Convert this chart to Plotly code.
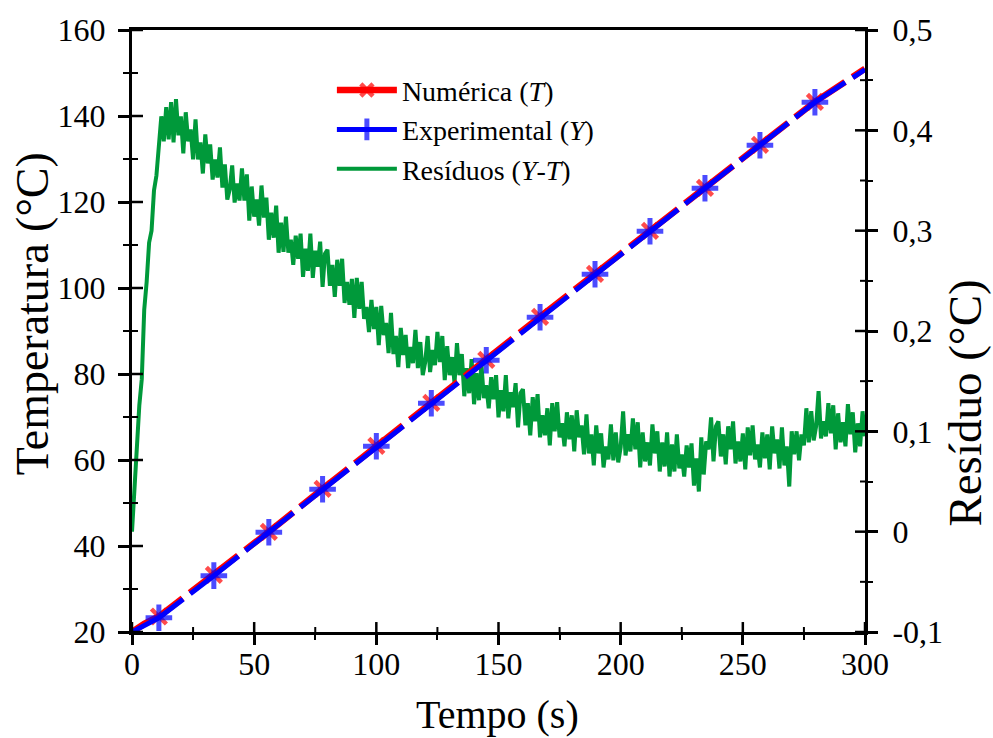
import plotly.graph_objects as go

# ---------------- data ----------------
# temperature curves (s, °C)
t_line = [0, 5, 11, 33.5, 56, 78, 100, 122.5, 145, 167, 189.5, 212, 234.5, 257, 279.5, 300]
T_numerica = [20.0, 21.9, 23.6, 33.3, 43.3, 53.3, 63.3, 73.3, 83.3, 93.3, 103.3, 113.3, 123.3, 133.3, 143.3, 151.0]
Y_experimental = [20.0, 21.5, 23.3, 33.1, 43.2, 53.2, 63.2, 73.2, 83.2, 93.2, 103.2, 113.2, 123.2, 133.2, 143.2, 150.8]
marker_on = [0, 0, 1, 1, 1, 1, 1, 1, 1, 1, 1, 1, 1, 1, 1, 0]

# residuals (°C), one reading per second 0..300
t_res = list(range(0, 301))
residuo = [
    0.000, 0.046, 0.074, 0.126, 0.152, 0.221, 0.249, 0.288, 0.300, 0.340, 0.355, 0.392,
    0.414, 0.389, 0.423, 0.391, 0.428, 0.388, 0.431, 0.395,
    0.414, 0.377, 0.418, 0.389, 0.401, 0.371, 0.411, 0.371, 0.388, 0.357,
    0.396, 0.367, 0.386, 0.351, 0.371, 0.353, 0.383, 0.343, 0.366, 0.331,
    0.341, 0.365, 0.328, 0.347, 0.330, 0.362, 0.330, 0.356, 0.310, 0.344,
    0.314, 0.331, 0.305, 0.345, 0.313, 0.333, 0.291, 0.318, 0.293, 0.325,
    0.278, 0.308, 0.279, 0.314, 0.278, 0.291, 0.266, 0.295, 0.272, 0.297,
    0.254, 0.282, 0.260, 0.297, 0.253, 0.280, 0.264, 0.289, 0.244, 0.277,
    0.281, 0.245, 0.266, 0.234, 0.271, 0.245, 0.272, 0.228, 0.249, 0.226,
    0.252, 0.213, 0.253, 0.222, 0.249, 0.212, 0.224, 0.199, 0.231, 0.202,
    0.224, 0.186, 0.225, 0.196, 0.208, 0.178, 0.218, 0.177, 0.195, 0.164,
    0.203, 0.176, 0.196, 0.163, 0.184, 0.168, 0.201, 0.163, 0.189, 0.156,
    0.169, 0.195, 0.159, 0.181, 0.166, 0.199, 0.169, 0.195, 0.151, 0.185,
    0.156, 0.174, 0.148, 0.188, 0.156, 0.177, 0.135, 0.163, 0.138, 0.172,
    0.127, 0.158, 0.131, 0.167, 0.133, 0.146, 0.123, 0.154, 0.132, 0.156,
    0.114, 0.141, 0.120, 0.156, 0.113, 0.139, 0.124, 0.148, 0.104, 0.138,
    0.142, 0.106, 0.128, 0.096, 0.134, 0.110, 0.137, 0.094, 0.116, 0.096,
    0.123, 0.086, 0.128, 0.100, 0.129, 0.094, 0.108, 0.085, 0.119, 0.092,
    0.116, 0.080, 0.121, 0.094, 0.106, 0.077, 0.117, 0.078, 0.097, 0.066,
    0.106, 0.078, 0.098, 0.064, 0.085, 0.072, 0.107, 0.071, 0.099, 0.069,
    0.084, 0.120, 0.076, 0.097, 0.080, 0.113, 0.082, 0.109, 0.064, 0.099,
    0.070, 0.089, 0.066, 0.107, 0.078, 0.100, 0.060, 0.089, 0.065, 0.099,
    0.055, 0.087, 0.060, 0.097, 0.063, 0.077, 0.055, 0.086, 0.064, 0.088,
    0.046, 0.073, 0.040, 0.094, 0.057, 0.090, 0.082, 0.114, 0.070, 0.105,
    0.110, 0.075, 0.097, 0.067, 0.105, 0.082, 0.110, 0.068, 0.090, 0.070,
    0.098, 0.062, 0.104, 0.076, 0.106, 0.072, 0.087, 0.064, 0.099, 0.073,
    0.097, 0.062, 0.105, 0.078, 0.092, 0.063, 0.104, 0.066, 0.085, 0.045,
    0.100, 0.077, 0.100, 0.071, 0.097, 0.086, 0.123, 0.089, 0.120, 0.091,
    0.105, 0.140, 0.093, 0.110, 0.095, 0.128, 0.098, 0.126, 0.082, 0.118,
    0.089, 0.109, 0.085, 0.127, 0.097, 0.119, 0.079, 0.108, 0.085, 0.120,
    0.095,
]

# axes / ticks
x_range = [0, 300]
temp_range = [20, 160]
res_range = [-0.1, 0.5]
x_major = [0, 50, 100, 150, 200, 250, 300]
x_minor = [25, 75, 125, 175, 225, 275]
temp_major = [20, 40, 60, 80, 100, 120, 140, 160]
temp_minor = [30, 50, 70, 90, 110, 130, 150]
res_major = [-0.1, 0, 0.1, 0.2, 0.3, 0.4, 0.5]
res_minor = [-0.05, 0.05, 0.15, 0.25, 0.35, 0.45]
res_tick_text = ["-0,1", "0", "0,1", "0,2", "0,3", "0,4", "0,5"]

names = ["Numérica (<i>T</i>)", "Experimental (<i>Y</i>)", "Resíduos (<i>Y</i>-<i>T</i>)"]
x_title = "Tempo (s)"
yl_title = "Temperatura (°C)"
yr_title = "Resíduo (°C)"

FONT = "Liberation Serif"
RED = "#FF0000"
BLUE = "#0000FF"
GREEN = "#00993A"
DASH = "61px,9px"
TICKC = "black"

# plot-area size in px (figure minus margins)
W, H = 993, 738
ML, MR, MT, MB = 132, 128, 28, 106
PW, PH = W - ML - MR, H - MT - MB

fig = go.Figure()

# residual (base axis y, right side)
fig.add_trace(go.Scatter(
    x=t_res, y=residuo, mode="lines", name=names[2],
    line=dict(color=GREEN, width=4), xaxis="x", yaxis="y", legendrank=3,
))

# numeric (red) under experimental (blue)
fig.add_trace(go.Scatter(
    x=t_line, y=T_numerica, mode="lines+markers", name=names[0],
    line=dict(color=RED, width=6.5, dash=DASH),
    marker=dict(symbol="x-thin", color=RED, size=[15 * m for m in marker_on],
                line=dict(width=4.5, color=RED)),
    xaxis="x", yaxis="y2", legendrank=1,
))
fig.add_trace(go.Scatter(
    x=t_line, y=Y_experimental, mode="lines+markers", name=names[1],
    line=dict(color=BLUE, width=5, dash=DASH),
    marker=dict(symbol="cross-thin", color=BLUE, size=[19 * m for m in marker_on],
                line=dict(width=5, color=BLUE)),
    xaxis="x", yaxis="y2", legendrank=2,
))

# inside halves of the tick marks (the reference ticks cross the axis lines)
def px_x(p):
    return p * (x_range[1] - x_range[0]) / PW

def px_temp(p):
    return p * (temp_range[1] - temp_range[0]) / PH

def tick_trace(xs, ys, yaxis, width):
    fig.add_trace(go.Scatter(x=xs, y=ys, mode="lines", xaxis="x", yaxis=yaxis,
                             line=dict(color=TICKC, width=width),
                             showlegend=False, hoverinfo="skip", cliponaxis=False))

for vals, length, width in [(x_major, 10, 2.5), (x_minor, 5, 2)]:
    xs, ys = [], []
    for v in vals:
        xs += [v, v, None]
        ys += [temp_range[0], temp_range[0] + px_temp(length), None]
    tick_trace(xs, ys, "y2", width)

for vals, length, width in [(temp_major, 11, 2.5), (temp_minor, 6, 2)]:
    xs, ys = [], []
    for v in vals:
        xs += [x_range[0], x_range[0] + px_x(length), None]
        ys += [v, v, None]
    tick_trace(xs, ys, "y2", width)

for vals, length, width in [(res_major, 10, 2.5), (res_minor, 5, 2)]:
    xs, ys = [], []
    for v in vals:
        xs += [x_range[1] - px_x(length), x_range[1], None]
        ys += [v, v, None]
    tick_trace(xs, ys, "y", width)

tickfont = dict(family=FONT, size=32, color="black")

fig.update_layout(
    width=W, height=H,
    margin=dict(l=ML, r=MR, t=MT, b=MB),
    plot_bgcolor="white", paper_bgcolor="white",
    font=dict(family=FONT, size=30, color="black"),
    xaxis=dict(
        range=x_range, tickmode="array", tickvals=x_major,
        showgrid=False, zeroline=False,
        showline=True, linecolor="black", linewidth=3, mirror=True,
        ticks="outside", ticklen=10, tickwidth=2.5, tickcolor="black",
        minor=dict(tickmode="array", tickvals=x_minor, ticks="outside", ticklen=5, tickwidth=2, tickcolor="black"),
        tickfont=tickfont, anchor="y", ticklabelstandoff=-8,
    ),
    yaxis=dict(
        range=res_range, side="right", anchor="x",
        tickmode="array", tickvals=res_major, ticktext=res_tick_text,
        showgrid=False, zeroline=False, showline=True, linecolor="black", linewidth=3,
        ticks="outside", ticklen=10, tickwidth=2.5, tickcolor="black",
        minor=dict(tickmode="array", tickvals=res_minor, ticks="outside", ticklen=5, tickwidth=2, tickcolor="black"),
        tickfont=tickfont, ticklabelstandoff=8,
    ),
    yaxis2=dict(
        range=temp_range, side="left", overlaying="y", anchor="x",
        tickmode="array", tickvals=temp_major,
        showgrid=False, zeroline=False,
        showline=True, linecolor="black", linewidth=3,
        ticks="outside", ticklen=11, tickwidth=2.5, tickcolor="black",
        minor=dict(tickmode="array", tickvals=temp_minor, ticks="outside", ticklen=6, tickwidth=2, tickcolor="black"),
        tickfont=tickfont, ticklabelstandoff=6,
    ),
    legend=dict(
        x=0.2727, y=0.9414, xanchor="left", yanchor="top",
        bgcolor="rgba(0,0,0,0)", borderwidth=0,
        font=dict(family=FONT, size=28, color="black"),
        itemwidth=60, tracegroupgap=0, traceorder="normal",
    ),
    showlegend=True,
)

fig.add_annotation(text=x_title, xref="paper", yref="paper", x=0.4993, y=-0.137,
                   xanchor="center", yanchor="middle", showarrow=False,
                   font=dict(family=FONT, size=40, color="black"))
fig.add_annotation(text=yl_title, xref="paper", yref="paper", x=-0.1364, y=0.528,
                   xanchor="center", yanchor="middle", showarrow=False, textangle=-90,
                   font=dict(family=FONT, size=46, color="black"))
fig.add_annotation(text=yr_title, xref="paper", yref="paper", x=1.1364, y=0.381,
                   xanchor="center", yanchor="middle", showarrow=False, textangle=-90,
                   font=dict(family=FONT, size=47, color="black"))

fig.write_html("out.html")
